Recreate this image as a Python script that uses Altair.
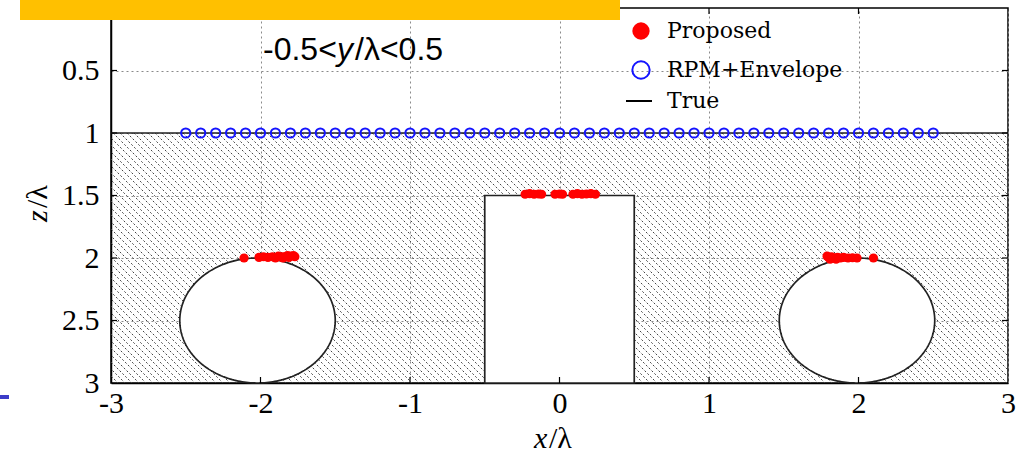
import numpy as np
import pandas as pd
import altair as alt

# ---------------- values ----------------
x_ticks = [-3, -2, -1, 0, 1, 2, 3]
z_ticks = [0.5, 1, 1.5, 2, 2.5, 3]
grid_x = [-2, -1, 0, 1, 2]
grid_z = [0.5, 1, 1.5, 2, 2.5]

# RPM+Envelope estimate: every sample sits on the flat interface z = 1
rpm_x = [-2.5, -2.4, -2.3, -2.2, -2.1, -2.0, -1.9, -1.8, -1.7, -1.6, -1.5,
         -1.4, -1.3, -1.2, -1.1, -1.0, -0.9, -0.8, -0.7, -0.6, -0.5, -0.4,
         -0.3, -0.2, -0.1, 0.0, 0.1, 0.2, 0.3, 0.4, 0.5, 0.6, 0.7, 0.8, 0.9,
         1.0, 1.1, 1.2, 1.3, 1.4, 1.5, 1.6, 1.7, 1.8, 1.9, 2.0, 2.1, 2.2,
         2.3, 2.4, 2.5]
rpm_z = [1.0] * len(rpm_x)

# Proposed estimate: points on the tops of the three buried objects
prop_x = [-2.11, -2.01, -1.98, -1.95, -1.92, -1.90, -1.88, -1.86, -1.84,
          -1.82, -1.80, -1.78, -1.77, -1.85, -1.81,
          -0.23, -0.20, -0.17, -0.14, -0.12, -0.03, 0.00, 0.02,
          0.09, 0.12, 0.15, 0.18, 0.21, 0.24,
          1.79, 1.80, 1.82, 1.84, 1.86, 1.88, 1.90, 1.93, 1.96, 1.99,
          1.81, 1.85, 2.10]
prop_z = [2.00, 1.995, 1.99, 1.995, 1.99, 2.00, 1.985, 1.99, 1.99,
          1.98, 1.985, 1.98, 1.99, 2.00, 1.995,
          1.49, 1.485, 1.49, 1.488, 1.49, 1.49, 1.488, 1.49,
          1.49, 1.485, 1.49, 1.488, 1.485, 1.49,
          1.985, 1.995, 1.99, 2.00, 1.995, 2.00, 1.995, 2.00, 1.998, 2.00,
          2.01, 2.01, 2.00]

# True geometry
interface_z = 1.0
block_x = [-0.5, 0.5]
block_z = [1.5, 3.0]
cyl_cx = [-2.02, 1.99]
cyl_cz = [2.5, 2.5]
cyl_rx = [0.52, 0.52]
cyl_rz = [0.5, 0.5]

legend_names = ["Proposed", "RPM+Envelope", "True"]

# ---------------- tables ----------------
W, H = 897, 375
hatch_step = 7.0 / W * 6.0          # ~7 px between hatch strokes
hatch_run = 2.0 * (H / 3.0) / (W / 6.0)  # 45 degree strokes from z=1 to z=3
x0 = np.arange(-3 - hatch_run, 3 + hatch_step, hatch_step)
hatch = pd.DataFrame({"x": x0, "z": interface_z, "x2": x0 + hatch_run, "z2": 3.0})

t = np.linspace(0, np.pi, 120)
cyl_rows = []
for i, (cx, cz, rx, rz) in enumerate(zip(cyl_cx, cyl_cz, cyl_rx, cyl_rz)):
    for tt in t:
        cyl_rows.append({"id": i, "x": cx + rx * np.cos(tt),
                         "z": cz - rz * np.sin(tt), "z2": cz + rz * np.sin(tt)})
cyl = pd.DataFrame(cyl_rows)

block = pd.DataFrame({"x": [block_x[0]], "x2": [block_x[1]],
                      "z": [block_z[0]], "z2": [block_z[1]]})
surface = pd.DataFrame({"x": [x_ticks[0]], "x2": [x_ticks[-1]], "z": [interface_z]})
rpm = pd.DataFrame({"x": rpm_x, "z": rpm_z})
prop = pd.DataFrame({"x": prop_x, "z": prop_z})

SERIF = "DejaVu Serif"
LABEL_FONT = "Liberation Serif"
x_axis = alt.Axis(values=x_ticks, labelExpr="datum.value + ''", title=None,
                  labelPadding=5, labelFont=LABEL_FONT, labelFontSize=30)
z_axis = alt.Axis(values=z_ticks, labelExpr="datum.value + ''", title=None,
                  labelPadding=12, labelFont=LABEL_FONT, labelFontSize=30)
xs = alt.Scale(domain=[-3, 3], nice=False, zero=False)
zs = alt.Scale(domain=[0, 3], reverse=True, nice=False, zero=False)


def X(f="x"):
    return alt.X(f"{f}:Q", scale=xs, axis=x_axis)


def Z(f="z"):
    return alt.Y(f"{f}:Q", scale=zs, axis=z_axis)


hatch_layer = alt.Chart(hatch).mark_rule(
    clip=True, color="#444444", strokeWidth=1.0, strokeDash=[2, 2]
).encode(x=X(), y=Z(), x2="x2:Q", y2="z2:Q")

cyl_layer = alt.Chart(cyl).mark_area(
    fill="white", stroke="#222", strokeWidth=1.7, opacity=1
).encode(x=X(), y=Z(), y2="z2:Q", detail="id:N")

block_layer = alt.Chart(block).mark_rect(
    fill="white", stroke="#222", strokeWidth=1.7
).encode(x=X(), x2="x2:Q", y=Z(), y2="z2:Q")

surface_layer = alt.Chart(surface).mark_rule(color="#222", strokeWidth=1.7).encode(
    x=X(), x2="x2:Q", y=Z())

rpm_layer = alt.Chart(rpm).mark_point(
    shape="circle", filled=False, size=85, color="#1414ff", strokeWidth=2, opacity=1
).encode(x=X(), y=Z())

prop_layer = alt.Chart(prop).mark_circle(size=85, color="#ff0000", opacity=1).encode(
    x=X(), y=Z())

# inward ticks on all four sides
tk_x = pd.DataFrame({"x": grid_x})
tk_z = pd.DataFrame({"z": grid_z})
ticks = [
    alt.Chart(tk_x).mark_rule(color="black", strokeWidth=1.2).encode(
        x=X(), y=alt.value(H - 6), y2=alt.value(H)),
    alt.Chart(tk_x).mark_rule(color="black", strokeWidth=1.2).encode(
        x=X(), y=alt.value(0), y2=alt.value(6)),
    alt.Chart(tk_z).mark_rule(color="black", strokeWidth=1.2).encode(
        y=Z(), x=alt.value(0), x2=alt.value(6)),
    alt.Chart(tk_z).mark_rule(color="black", strokeWidth=1.2).encode(
        y=Z(), x=alt.value(W - 6), x2=alt.value(W)),
]

# legend
one = pd.DataFrame({"k": [0]})
leg = [
    alt.Chart(one).mark_circle(size=300, color="#ff0000", opacity=1).encode(
        x=alt.value(530), y=alt.value(23)),
    alt.Chart(one).mark_point(shape="circle", filled=False, size=300,
                              color="#1414ff", strokeWidth=2, opacity=1).encode(
        x=alt.value(530), y=alt.value(62)),
    alt.Chart(one).mark_rule(color="black", strokeWidth=2).encode(
        x=alt.value(515), x2=alt.value(541), y=alt.value(93)),
]
for name, yy in zip(legend_names, [23, 62, 93]):
    leg.append(alt.Chart(one).mark_text(
        text=name, font=SERIF, fontSize=22, align="left", baseline="middle",
        color="black").encode(x=alt.value(556), y=alt.value(yy)))


# annotation and axis titles
def txt(s, x, y, size, font=SERIF, style=None, angle=0, align="left",
        baseline="alphabetic"):
    kw = dict(text=s, font=font, fontSize=size, angle=angle,
              align=align, baseline=baseline, color="black")
    if style:
        kw["fontStyle"] = style
    return alt.Chart(one).mark_text(**kw).encode(x=alt.value(x), y=alt.value(y))


SANS = "Liberation Sans"
texts = [
    txt("-0.5<", 152, 52, 32, font=SANS),
    txt("y", 226, 52, 32, font=SANS, style="italic"),
    txt("/\u03bb<0.5", 244, 52, 32, font=SANS),
    txt("x", 423, 440, 30, font=LABEL_FONT, style="italic"),
    txt("/\u03bb", 438, 440, 30, font=LABEL_FONT),
    txt("z", -64, 214, 30, font=LABEL_FONT, style="italic", angle=270),
    txt("/\u03bb", -64, 200, 30, font=LABEL_FONT, angle=270),
]

# banner strip along the top edge and the small slide marker
deco = [
    alt.Chart(one).mark_rect(color="#ffc000").encode(
        x=alt.value(-91), x2=alt.value(509), y=alt.value(-8), y2=alt.value(12)),
    alt.Chart(one).mark_rect(color="#3c3cc8").encode(
        x=alt.value(-111), x2=alt.value(-102), y=alt.value(387), y2=alt.value(391)),
]

chart = alt.layer(
    hatch_layer, cyl_layer, block_layer, surface_layer, rpm_layer, prop_layer,
    *ticks, *leg, *texts, *deco
).properties(
    width=W, height=H,
    padding={"left": 111, "top": 8, "right": 24, "bottom": 71},
    autosize=alt.AutoSizeParams(type="none"),
    background="white",
).configure_view(
    stroke="black", strokeWidth=1.5
).configure_axis(
    grid=True, gridColor="#8a8a8a", gridDash=[2, 3], gridWidth=1,
    tickSize=0, domainColor="black", domainWidth=1.5,
    labelFont=LABEL_FONT, labelFontSize=30, labelColor="black", labelFlush=False,
)

chart.save("out.html", embed_options={"renderer": "svg", "actions": False})
